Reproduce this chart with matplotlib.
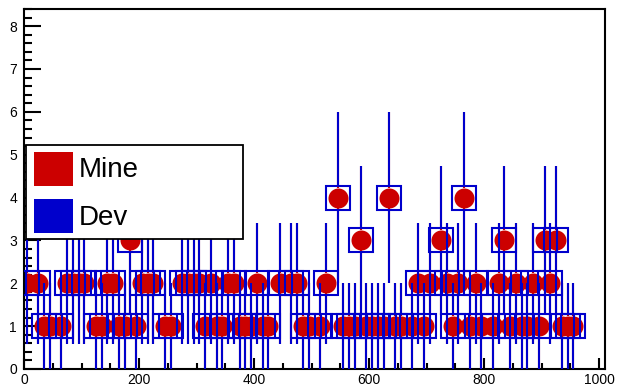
"""
Mine vs Dev: per-bin counts with Poisson error bars (ROOT-style look)
"""

import numpy as np
import matplotlib
matplotlib.use("Agg")
import matplotlib.pyplot as plt
from matplotlib.patches import Rectangle
from matplotlib.ticker import MultipleLocator

plt.rcParams['font.family'] = ['Liberation Sans', 'DejaVu Sans']

# histogram range: 101 bins of width 10
x_lo, x_hi, n_bins = 0, 1010, 101

mine_counts = [
    2, 0, 2, 1, 1, 0, 1, 2, 2, 2,
    2, 0, 1, 1, 2, 2, 1, 1, 3, 1,
    2, 2, 2, 0, 1, 1, 0, 2, 2, 2,
    2, 1, 2, 1, 1, 2, 2, 1, 1, 1,
    2, 1, 1, 0, 2, 0, 2, 2, 1, 1,
    0, 1, 2, 0, 4, 1, 1, 1, 3, 1,
    1, 1, 1, 4, 1, 1, 0, 1, 2, 1,
    2, 0, 3, 2, 1, 2, 4, 1, 2, 1,
    0, 1, 2, 3, 1, 2, 1, 1, 2, 1,
    3, 2, 3, 1, 1, 1, 0, 0, 0, 0,
    0,
]
dev_counts = list(mine_counts)

legend_labels = ["Mine", "Dev"]
red = "#cc0000"
blue = "#0000cc"

W, H = 617, 391
fig = plt.figure(figsize=(W / 100, H / 100), dpi=100)
ax = fig.add_axes([24 / W, 1 - 369 / H, 581 / W, 360 / H])
ax.set_xlim(x_lo, x_hi)
ax.set_ylim(0, 8.4)

centers = x_lo + (np.arange(n_bins) + 0.5) * (x_hi - x_lo) / n_bins
px_per_y = 360 / 8.4


def draw_hist(counts, color, lw, marker, ms, filled, gap_px, z):
    c = np.asarray(counts, float)
    keep = c > 0
    x, y = centers[keep], c[keep]
    e = np.sqrt(y)
    g = gap_px / px_per_y
    ax.vlines(x, y - e, y - g, color=color, lw=lw, zorder=z)
    ax.vlines(x, y + g, y + e, color=color, lw=lw, zorder=z)
    if filled:
        ax.plot(x, y, ls='none', marker=marker, ms=ms, mfc=color, mec=color,
                mew=0, zorder=z + 0.5)
    else:
        ax.plot(x, y, ls='none', marker=marker, ms=ms, mfc='none', mec=color,
                mew=1.5, zorder=z + 0.5)


draw_hist(mine_counts, red, 1.5, 'o', 14.4, True, 10, 2)
draw_hist(dev_counts, blue, 1.5, 's', 17, False, 12.5, 4)

# axes look
for s in ax.spines.values():
    s.set_linewidth(1.5)
ax.xaxis.set_major_locator(MultipleLocator(200))
ax.xaxis.set_minor_locator(MultipleLocator(50))
ax.yaxis.set_major_locator(MultipleLocator(1))
ax.yaxis.set_minor_locator(MultipleLocator(0.2))
ax.tick_params(which='both', direction='in', top=False, right=False,
               width=1.5, labelsize=10)
ax.tick_params(axis='y', which='major', length=12.5, pad=5)
ax.tick_params(axis='y', which='minor', length=6)
ax.tick_params(axis='x', which='major', length=8, pad=3)
ax.tick_params(axis='x', which='minor', length=4)


# legend drawn in figure pixels (origin top-left)
def fx(p):
    return p / W


def fy(p):
    return 1 - p / H


fig.add_artist(Rectangle((fx(26), fy(239)), fx(243) - fx(26), fy(145) - fy(239),
                         transform=fig.transFigure, facecolor='white',
                         edgecolor='black', lw=1.3, zorder=10))
for (top, bot, base), col, lab in zip([(152, 186, 177), (199, 233, 225)],
                                      [red, blue], legend_labels):
    fig.add_artist(Rectangle((fx(34), fy(bot)), fx(73) - fx(34), fy(top) - fy(bot),
                             transform=fig.transFigure, facecolor=col,
                             edgecolor='none', zorder=11))
    fig.text(fx(79), fy(base), lab, fontsize=20, va='baseline', ha='left',
             zorder=12)

fig.savefig("out.png", dpi=100)
